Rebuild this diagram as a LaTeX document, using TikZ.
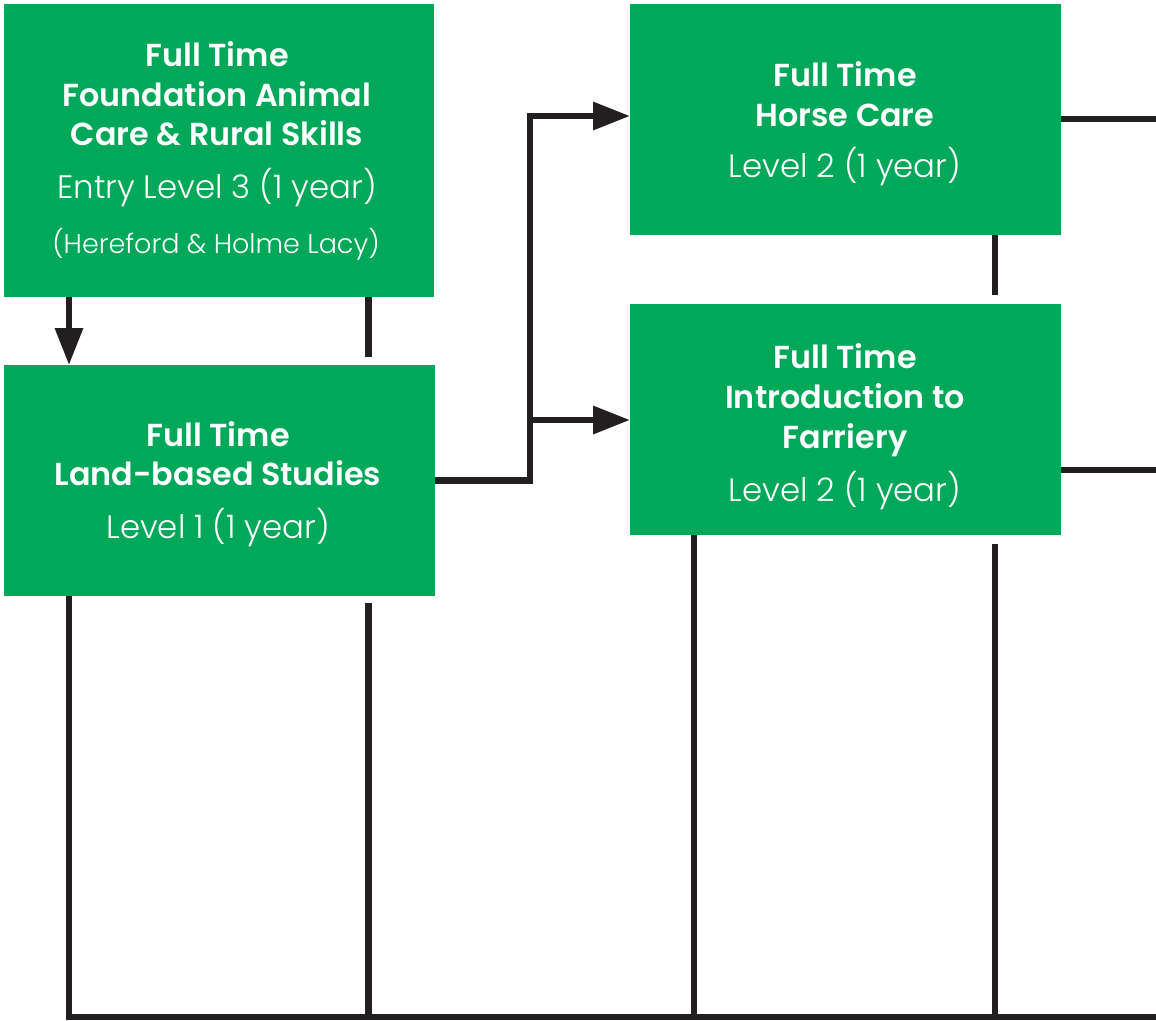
\documentclass[tikz,border=0pt]{standalone}
\usepackage{fontspec}
\setmainfont{Poppins}[UprightFont=* Light, BoldFont=* SemiBold]
\usetikzlibrary{arrows.meta}
\definecolor{boxgreen}{RGB}{0,168,89}
\definecolor{linedark}{RGB}{35,31,32}
\tikzset{
  greenbox/.style={fill=boxgreen, draw=none, inner sep=0pt, outer sep=0pt},
  ttl/.style={text=white, font=\bfseries\fontsize{31.8}{34}\selectfont, anchor=base, inner sep=0pt},
  sub/.style={text=white, font=\fontsize{32.4}{34}\selectfont, anchor=base, inner sep=0pt},
  small/.style={text=white, font=\fontsize{27}{29}\selectfont, anchor=base, inner sep=0pt},
  link/.style={draw=linedark, line width=6.5pt, line join=miter},
  arrowlink/.style={link, -{Triangle[width=27pt,length=37pt]}},
}
\begin{document}
\begin{tikzpicture}[x=1pt,y=-1pt]
\useasboundingbox (0,0) rectangle (1156,1020);
% boxes
\path[greenbox] (4,4) rectangle (434,296.5) node[midway] (A) {};
\path[greenbox] (4,365) rectangle (435,596) node[midway] (B) {};
\path[greenbox] (630,4) rectangle (1060.5,235) node[midway] (C) {};
\path[greenbox] (630,304) rectangle (1060.5,535) node[midway] (D) {};
% box A text
\node[ttl] (a1) at (217,66) {Full Time};
\node[ttl] (a2) at (217,106) {Foundation Animal};
\node[ttl] (a3) at (217,145) {Care \& Rural Skills};
\node[sub] (a4) at (217,198) {Entry Level 3 (1 year)};
\node[small] (a5) at (216,253) {(Hereford \& Holme Lacy)};
% box B text
\node[ttl] (b1) at (218,446) {Full Time};
\node[ttl] (b2) at (218,485) {Land-based Studies};
\node[sub] (b3) at (218,538) {Level 1 (1 year)};
% box C text
\node[ttl] (c1) at (845,86.5) {Full Time};
\node[ttl] (c2) at (845,126) {Horse Care};
\node[sub] (c3) at (845,177.5) {Level 2 (1 year)};
% box D text
\node[ttl] (d1) at (845,368) {Full Time};
\node[ttl] (d2) at (845,408) {Introduction to};
\node[ttl] (d3) at (845,448) {Farriery};
\node[sub] (d4) at (845,501.5) {Level 2 (1 year)};
% coordinates
\coordinate (aBot) at (69,296.5);
\coordinate (bTop) at (69,365);
\coordinate (aStubT) at (368.5,296.5);
\coordinate (aStubB) at (368.5,357);
\coordinate (bOut) at (435,480.5);
\coordinate (split) at (530,480.5);
\coordinate (splitTop) at (530,116);
\coordinate (splitMid) at (530,420);
\coordinate (cIn) at (630,116);
\coordinate (dIn) at (630,420);
\coordinate (cOut) at (1060.5,119);
\coordinate (cOutEnd) at (1156,119);
\coordinate (dOut) at (1060.5,470);
\coordinate (dOutEnd) at (1156,470);
\coordinate (cStubT) at (995,235);
\coordinate (cStubB) at (995,295);
\coordinate (bL) at (69,596);
\coordinate (bR) at (368.5,603);
\coordinate (dL) at (694,535);
\coordinate (dR) at (995,544);
\coordinate (f1) at (69,1017);
\coordinate (f2) at (368.5,1017);
\coordinate (f3) at (694,1017);
\coordinate (f4) at (995,1017);
\coordinate (fEnd) at (1156,1017);
% connectors
\draw[arrowlink] (aBot) -- (bTop);
\draw[link] (aStubT) -- (aStubB);
\draw[arrowlink] (bOut) -- (split) -- (splitTop) -- (cIn);
\draw[arrowlink] (splitMid) -- (dIn);
\draw[link] (cOut) -- (cOutEnd);
\draw[link] (dOut) -- (dOutEnd);
\draw[link] (cStubT) -- (cStubB);
\draw[link] (bL) -- (f1) -- (fEnd);
\draw[link] (bR) -- (f2);
\draw[link] (dL) -- (f3);
\draw[link] (dR) -- (f4);
\end{tikzpicture}
\end{document}
